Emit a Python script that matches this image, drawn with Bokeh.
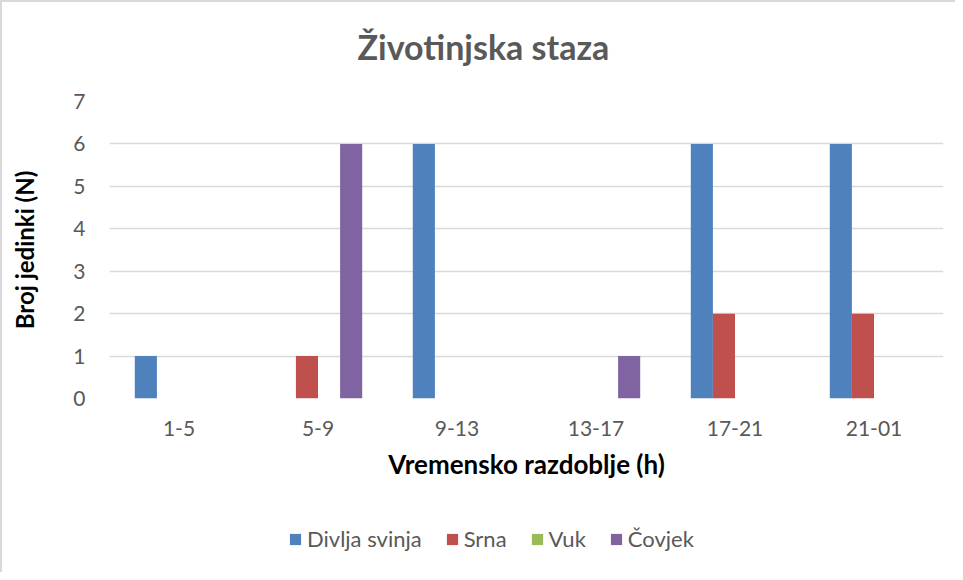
from bokeh.plotting import figure
from bokeh.models import ColumnDataSource, Legend, LegendItem, Range1d, FactorRange, Label
from bokeh.layouts import column
from bokeh.transform import dodge
from bokeh.embed import file_html
from bokeh.resources import INLINE

categories = ["1-5", "5-9", "9-13", "13-17", "17-21", "21-01"]
divlja_svinja = [1, 0, 6, 0, 6, 6]
srna = [0, 1, 0, 0, 2, 2]
vuk = [0, 0, 0, 0, 0, 0]
covjek = [0, 6, 0, 1, 0, 0]
series_names = ["Divlja svinja", "Srna", "Vuk", "Čovjek"]
colors = ["#4F81BD", "#C0504D", "#9BBB59", "#8064A2"]
y_ticks = [0, 1, 2, 3, 4, 5, 6, 7]
title_text = "Životinjska staza"

FONT = "Lato"
BORDER = "2px solid #D9D9D9"


def strip(height, styles):
    f = figure(width=955, height=height, x_range=Range1d(0, 1), y_range=Range1d(0, 1),
               output_backend="svg", toolbar_location=None, min_border=0)
    f.styles = styles
    f.axis.visible = False
    f.grid.grid_line_color = None
    f.outline_line_color = None
    f.background_fill_color = "white"
    f.border_fill_color = "white"
    return f


# ---- title strip ----
t = strip(80, {"border-left": BORDER, "border-top": BORDER, "box-sizing": "border-box"})
t.add_layout(Label(x=248, y=36, x_units="screen", y_units="screen", text=title_text,
                   text_font=FONT, text_font_size="34px", text_font_style="bold",
                   text_color="#595959", text_align="left", text_baseline="alphabetic"))

# ---- main chart ----
source = ColumnDataSource(dict(cats=categories, s0=divlja_svinja, s1=srna, s2=vuk, s3=covjek))

p = figure(x_range=FactorRange(*categories), y_range=Range1d(0, 7),
           width=955, height=420, output_backend="svg", toolbar_location=None,
           min_border_left=107, min_border_right=14, min_border_top=21, min_border_bottom=102)
p.styles = {"border-left": BORDER, "box-sizing": "border-box"}

bw = 0.159
offsets = [-1.5 * bw, -0.5 * bw, 0.5 * bw, 1.5 * bw]
for i, col in enumerate(colors):
    p.vbar(x=dodge("cats", offsets[i], range=p.x_range), top="s%d" % i, width=bw,
           source=source, fill_color=col, line_color=None)

p.outline_line_color = None
p.background_fill_color = "white"
p.border_fill_color = "white"

p.xgrid.grid_line_color = None
p.ygrid.grid_line_color = "#D9D9D9"
p.ygrid.grid_line_width = 1.3
p.yaxis.ticker = y_ticks

for ax in (p.xaxis[0], p.yaxis[0]):
    ax.axis_line_color = None
    ax.major_tick_line_color = None
    ax.minor_tick_line_color = None
    ax.major_label_text_font = FONT
    ax.major_label_text_font_size = "21px"
    ax.major_label_text_color = "#595959"
    ax.axis_label_text_font = FONT
    ax.axis_label_text_font_style = "bold"
    ax.axis_label_text_color = "#000000"

p.xaxis.axis_label = "Vremensko razdoblje (h)"
p.yaxis.axis_label = "Broj jedinki (N)"
p.xaxis.axis_label_text_font_size = "26px"
p.yaxis.axis_label_text_font_size = "24px"
p.xaxis.major_label_standoff = 16
p.xaxis.axis_label_standoff = 9
p.yaxis.major_label_standoff = 18
p.yaxis.axis_label_standoff = 31
p.x_range.range_padding = 0
p.x_range.group_padding = 0

# ---- legend strip ----
q = strip(72, {"border-left": BORDER, "box-sizing": "border-box"})
items = []
hidden = ColumnDataSource(dict(l=[float("nan")], r=[float("nan")], b=[float("nan")], t=[float("nan")]))
for name, col in zip(series_names, colors):
    r = q.quad(left="l", right="r", bottom="b", top="t", source=hidden,
               fill_color=col, line_color=None)
    items.append(LegendItem(label=name, renderers=[r]))

legend = Legend(items=items, orientation="horizontal", location=(179, 20),
                label_text_font=FONT, label_text_font_size="22px", label_text_color="#595959",
                glyph_width=14, glyph_height=14, spacing=23, label_standoff=5,
                border_line_color=None, background_fill_alpha=0, padding=0, margin=0)
q.add_layout(legend, "center")

layout = column(t, p, q, spacing=0)
open("out.html", "w").write(file_html(layout, INLINE))
